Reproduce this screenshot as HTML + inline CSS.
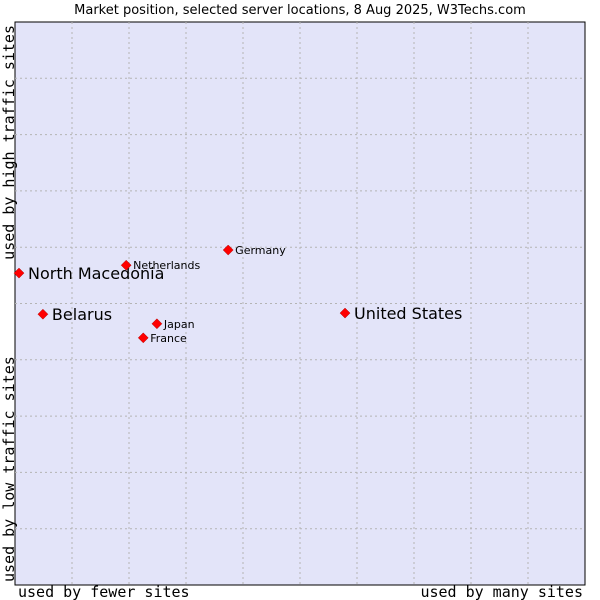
<!DOCTYPE html>
<html><head><meta charset="utf-8"><style>
body{margin:0;background:#fff;}
svg{display:block;}
</style></head><body>
<svg id="chart" width="600" height="600" xmlns="http://www.w3.org/2000/svg">
<text x="300" y="14" text-anchor="middle" font-family="DejaVu Sans, sans-serif" font-size="13" fill="#000">Market position, selected server locations, 8 Aug 2025, W3Techs.com</text>
<rect x="15" y="22" width="570" height="563" fill="#e3e4f9" stroke="#000" stroke-width="1"/>
<g id="grid"></g>
<g id="points"></g>
<text x="18" y="597" font-family="DejaVu Sans Mono, monospace" font-size="15">used by fewer sites</text>
<text x="583" y="597" text-anchor="end" font-family="DejaVu Sans Mono, monospace" font-size="15">used by many sites</text>
<text transform="translate(14,25) rotate(-90)" text-anchor="end" font-family="DejaVu Sans Mono, monospace" font-size="15">used by high traffic sites</text>
<text transform="translate(14,582) rotate(-90)" font-family="DejaVu Sans Mono, monospace" font-size="15">used by low traffic sites</text>
</svg>
<script>
const names=["North Macedonia","Belarus","Netherlands","Germany","Japan","France","United States"];
const xVals=[0.7,4.9,19.5,37.4,24.9,22.5,57.9];
const yVals=[55.4,48.1,56.8,59.5,46.4,43.9,48.3];
const big=[true,true,false,false,false,false,true];
const NS="http://www.w3.org/2000/svg";
const L=15,T=22,W=570,H=563;
function sx(v){return L+v/100*W;}
function sy(v){return T+H-v/100*H;}
const grid=document.getElementById('grid');
for(let i=1;i<10;i++){
  const a=document.createElementNS(NS,'line');
  a.setAttribute('x1',sx(i*10));a.setAttribute('x2',sx(i*10));a.setAttribute('y1',T);a.setAttribute('y2',T+H);
  a.setAttribute('stroke','#b4b4b4');a.setAttribute('stroke-dasharray','2,3');
  
  
  grid.appendChild(a);
  const b=document.createElementNS(NS,'line');
  b.setAttribute('y1',sy(i*10));b.setAttribute('y2',sy(i*10));b.setAttribute('x1',L);b.setAttribute('x2',L+W);
  b.setAttribute('stroke','#b4b4b4');b.setAttribute('stroke-dasharray','2,3');
  
  
  grid.appendChild(b);
}
const pts=document.getElementById('points');
names.forEach((n,i)=>{
  const x=sx(xVals[i]),y=sy(yVals[i]);
  const d=document.createElementNS(NS,'polygon');
  d.setAttribute('points',`${x},${y-5} ${x+5},${y} ${x},${y+5} ${x-5},${y}`);
  d.setAttribute('fill','#f00');
  d.setAttribute('stroke','#a00');
  d.setAttribute('stroke-width','0.5');
  
  
  pts.appendChild(d);
  const t=document.createElementNS(NS,'text');
  t.setAttribute('x',x+(big[i]?9:7));
  t.setAttribute('y',y+(big[i]?6:4));
  t.setAttribute('font-family','DejaVu Sans, sans-serif');
  t.setAttribute('font-size',big[i]?16:11);
  t.textContent=n;
  
  
  pts.appendChild(t);
});
</script>
</body></html>
